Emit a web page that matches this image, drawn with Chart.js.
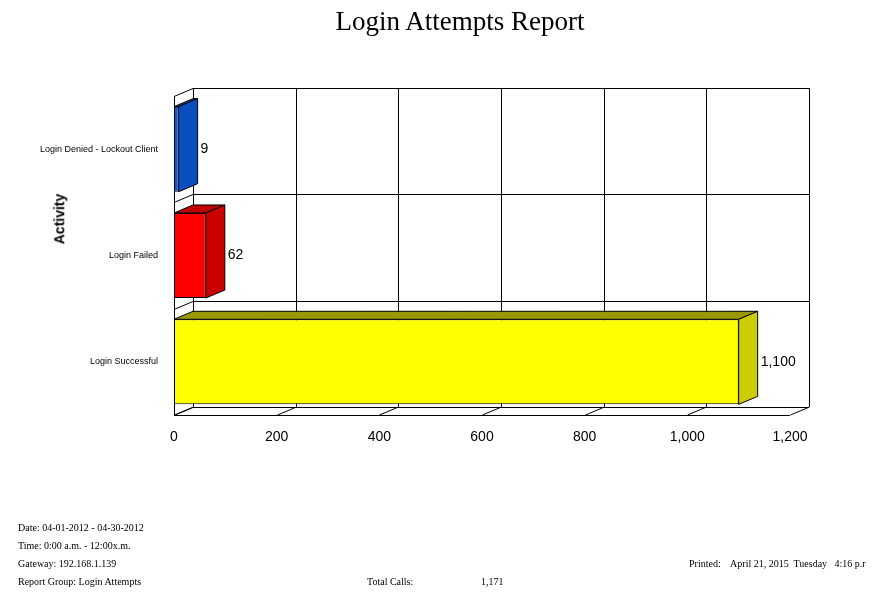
<!DOCTYPE html>
<html><head><meta charset="utf-8">
<script src="https://cdn.jsdelivr.net/npm/chart.js@4"></script>
<style>
body{margin:0;background:#fff;width:882px;height:592px;overflow:hidden;position:relative;font-family:"Liberation Serif",serif}
#c{position:absolute;left:0;top:0}
.t{position:absolute;white-space:nowrap}
.f{font-size:10px}
</style></head><body>
<canvas id="c" width="882" height="592"></canvas>
<div class="t" style="left:0;width:920px;text-align:center;top:6px;font-size:27px">Login Attempts Report</div>
<div class="t" style="left:34px;top:211px;transform:rotate(-90deg);font:bold 14px 'Liberation Sans',Arial">Activity</div>
<div class="t f" style="left:18px;top:522px">Date: 04-01-2012 - 04-30-2012</div>
<div class="t f" style="left:18px;top:540px">Time: 0:00 a.m. - 12:00x.m.</div>
<div class="t f" style="left:18px;top:558px">Gateway: 192.168.1.139</div>
<div class="t f" style="left:18px;top:576px">Report Group: Login Attempts</div>
<div class="t f" style="left:367px;top:576px">Total Calls:</div>
<div class="t f" style="left:481px;top:576px">1,171</div>
<div class="t f" style="left:689px;top:558px">Printed:&nbsp;&nbsp;&nbsp; April 21, 2015&nbsp; Tuesday&nbsp;&nbsp; 4:16 p.r</div>
<script>
const categories = ['Login Denied - Lockout Client', 'Login Failed', 'Login Successful'];
const counts = [9, 62, 1100];
const valueLabels = ['9', '62', '1,100'];
const frontColors = ['#0a5ad6', '#ff0000', '#ffff00'];
const topColors = ['#0646a8', '#c00000', '#999900'];
const sideColors = ['#0a4fc0', '#cc0000', '#cccc00'];
const DX = 19, DY = -8;

const wall3d = {
  id: 'wall3d',
  beforeDatasetsDraw(chart) {
    const {ctx, chartArea: a, scales: {x}} = chart;
    ctx.save();
    ctx.strokeStyle = '#000'; ctx.lineWidth = 1;
    ctx.beginPath();
    // back wall verticals and floor ticks
    for (let v = 0; v <= 1200; v += 200) {
      const px = Math.round(x.getPixelForValue(v)) + 0.5;
      ctx.moveTo(px + DX, a.top + DY); ctx.lineTo(px + DX, a.bottom + DY);
      ctx.moveTo(px, a.bottom); ctx.lineTo(px + DX, a.bottom + DY);
    }
    // back wall horizontals + left wall
    const n = categories.length, h = (a.bottom - a.top) / n;
    for (let i = 0; i <= n; i++) {
      const py = Math.round(a.top + i * h) + 0.5;
      ctx.moveTo(a.left + DX, py + DY); ctx.lineTo(a.right + DX, py + DY);
      ctx.moveTo(a.left, py); ctx.lineTo(a.left + DX, py + DY);
    }
    ctx.moveTo(a.left + 0.5, a.top); ctx.lineTo(a.left + 0.5, a.bottom);
    ctx.moveTo(a.left, a.bottom + 0.5); ctx.lineTo(a.right, a.bottom + 0.5);
    ctx.stroke();
    ctx.restore();
  },
  afterDatasetsDraw(chart) {
    const {ctx} = chart;
    ctx.save();
    ctx.strokeStyle = '#000'; ctx.lineWidth = 1;
    chart.getDatasetMeta(0).data.forEach((bar, i) => {
      const x0 = bar.base, x1 = bar.x, t = bar.y - bar.height / 2, b = bar.y + bar.height / 2;
      ctx.fillStyle = topColors[i];
      ctx.beginPath();
      ctx.moveTo(x0, t); ctx.lineTo(x0 + DX, t + DY); ctx.lineTo(x1 + DX, t + DY); ctx.lineTo(x1, t); ctx.closePath();
      ctx.fill(); ctx.stroke();
      ctx.fillStyle = sideColors[i];
      ctx.beginPath();
      ctx.moveTo(x1, t); ctx.lineTo(x1 + DX, t + DY); ctx.lineTo(x1 + DX, b + DY); ctx.lineTo(x1, b); ctx.closePath();
      ctx.fill(); ctx.stroke();
      ctx.fillStyle = '#000';
      ctx.font = '14px "Liberation Sans", Arial';
      ctx.textBaseline = 'middle';
      ctx.fillText(valueLabels[i], x1 + DX + 3, bar.y);
    });
    ctx.restore();
  }
};

new Chart(document.getElementById('c'), {
  type: 'bar',
  data: {
    labels: categories,
    datasets: [{
      data: counts,
      backgroundColor: frontColors,
      borderColor: '#000',
      borderWidth: 1,
      borderSkipped: false,
      categoryPercentage: 0.8,
      barPercentage: 1
    }]
  },
  options: {
    indexAxis: 'y',
    responsive: false,
    animation: false,
    layout: {padding: {left: 0, top: 96, right: 92, bottom: 147}},
    plugins: {legend: {display: false}, tooltip: {enabled: false}},
    scales: {
      x: {
        min: 0, max: 1200,
        afterFit: s => { s.height = 30; },
        grid: {display: false}, border: {display: false},
        ticks: {stepSize: 200, color: '#000', padding: 6, font: {family: '"Liberation Sans", Arial', size: 14}}
      },
      y: {
        afterFit: s => { s.width = 174; },
        grid: {display: false}, border: {display: false},
        ticks: {color: '#000', padding: 8, font: {family: '"Liberation Sans", Arial', size: 9}}
      }
    }
  },
  plugins: [wall3d]
});
</script>
</body></html>
